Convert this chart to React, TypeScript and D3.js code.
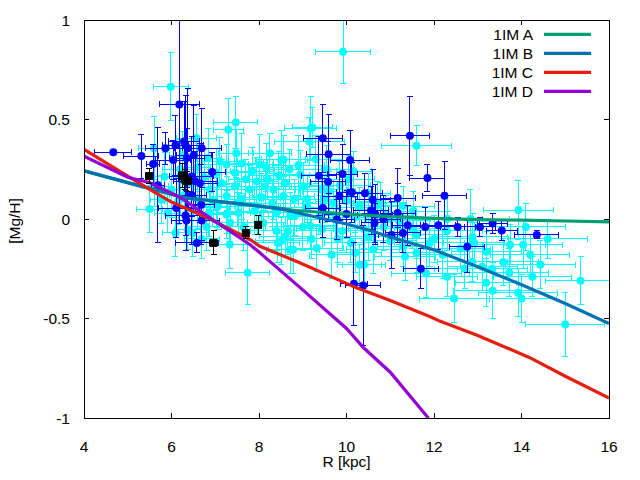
import React from 'react';
import * as d3 from 'd3';

// ---------- axes ----------
const xTicks = [4, 6, 8, 10, 12, 14, 16];
const yTicks = [-1, -0.5, 0, 0.5, 1];
const yTickLabels = ['-1', '-0.5', '0', '0.5', '1'];
const xTitle = 'R [kpc]';
const yTitle = '[Mg/H]';

// ---------- models ----------
const modelNames = ['1IM A', '1IM B', '1IM C', '1IM D'];
const modelColors = ['#009e73', '#0072b2', '#e51e10', '#9400d3'];

const modelA_R = [4, 5, 6, 6.3, 7, 8, 8.5, 8.78, 10, 11, 12, 13, 14, 15, 16];
const modelA_MgH = [0.242, 0.183, 0.125, 0.106, 0.09, 0.065, 0.053, 0.044, 0.025, 0.012, 0.003, -0.003, -0.006, -0.01, -0.014];

const modelB_R = [4, 5, 6, 6.3, 7, 8, 8.5, 9, 9.4, 10, 10.5, 11, 12, 13, 14, 15, 16];
const modelB_MgH = [0.242, 0.183, 0.125, 0.106, 0.09, 0.065, 0.05, 0.025, 0.005, -0.025, -0.055, -0.09, -0.155, -0.24, -0.33, -0.425, -0.525];

const modelC_R = [4, 5, 5.51, 6, 6.88, 7.79, 8.02, 8.93, 10.23, 11, 11.9, 12.13, 13, 14.19, 15, 16];
const modelC_MgH = [0.35, 0.215, 0.148, 0.085, 0.0, -0.103, -0.137, -0.22, -0.346, -0.41, -0.49, -0.513, -0.585, -0.697, -0.79, -0.9];

const modelD_R = [4, 5, 5.51, 6, 6.27, 6.88, 7.79, 8.02, 8.94, 10, 10.39, 11, 11.87];
const modelD_MgH = [0.315, 0.21, 0.182, 0.13, 0.098, 0.006, -0.128, -0.17, -0.345, -0.55, -0.647, -0.77, -1.0];

// ---------- observations: [R, [Mg/H], errR, err[Mg/H]] ----------
const cyanStars: number[][] = [
  [5.6, 0.356, 0.35, 0.16], [5.98, 0.665, 0.4, 0.17], [5.84, 0.214, 0.3, 0.12], [5.62, 0.165, 0.3, 0.1],
  [5.76, 0.097, 0.25, 0.12], [6.0, 0.147, 0.35, 0.14], [5.91, 0.03, 0.3, 0.1], [6.09, -0.07, 0.3, 0.12],
  [6.2, 0.25, 0.4, 0.15], [6.3, 0.12, 0.35, 0.1], [6.15, 0.09, 0.3, 0.12], [6.37, -0.053, 0.3, 0.1],
  [6.49, -0.07, 0.35, 0.12], [6.25, 0.32, 0.3, 0.12], [5.5, 0.05, 0.3, 0.12], [6.45, 0.18, 0.3, 0.15],
  [6.57, 0.407, 0.45, 0.12], [6.84, 0.306, 0.3, 0.15], [6.69, -0.1, 0.4, 0.1], [6.86, 0.03, 0.35, 0.12],
  [6.88, 0.148, 0.4, 0.1], [6.6, 0.26, 0.3, 0.12], [6.75, 0.21, 0.35, 0.14], [6.95, 0.09, 0.3, 0.1],
  [6.6, 0.1, 0.3, 0.15], [6.8, -0.04, 0.35, 0.12],
  [7.03, 0.232, 0.5, 0.12], [7.06, 0.065, 0.4, 0.12], [7.03, 0.056, 0.3, 0.1], [7.1, 0.29, 0.4, 0.12],
  [7.26, 0.274, 0.5, 0.1], [7.26, 0.115, 0.4, 0.1], [7.26, 0.023, 0.35, 0.12], [7.27, 0.028, 0.3, 0.1],
  [7.3, 0.448, 0.35, 0.16], [7.33, -0.128, 0.4, 0.12], [7.34, -0.019, 0.4, 0.1], [7.45, 0.232, 0.5, 0.12],
  [7.45, 0.165, 0.4, 0.1], [7.47, 0.485, 0.5, 0.13], [7.48, 0.33, 0.4, 0.12], [7.5, 0.082, 0.45, 0.12],
  [7.53, 0.031, 0.5, 0.1], [7.6, 0.279, 0.5, 0.15], [7.74, -0.27, 0.5, 0.16], [7.79, 0.148, 0.5, 0.12],
  [7.7, 0.2, 0.4, 0.1], [7.65, -0.04, 0.5, 0.12], [7.9, 0.04, 0.6, 0.12], [7.95, 0.065, 0.5, 0.1],
  [7.85, 0.24, 0.5, 0.12], [7.6, 0.1, 0.4, 0.1], [7.15, 0.18, 0.4, 0.12], [7.95, 0.19, 0.5, 0.12],
  [8.02, 0.274, 0.5, 0.15], [8.14, 0.165, 0.6, 0.12], [8.17, 0.257, 0.4, 0.12], [8.33, 0.148, 0.6, 0.15],
  [8.4, 0.031, 0.6, 0.12], [8.4, -0.06, 0.6, 0.1], [8.43, -0.12, 0.5, 0.1], [8.51, -0.11, 0.6, 0.12],
  [8.51, 0.297, 0.6, 0.15], [8.56, 0.299, 0.5, 0.12], [8.56, 0.115, 0.7, 0.1], [8.6, -0.087, 0.6, 0.1],
  [8.66, -0.06, 0.7, 0.12], [8.71, 0.015, 0.7, 0.12], [8.71, -0.153, 0.5, 0.12], [8.78, -0.155, 0.6, 0.12],
  [8.82, 0.015, 0.6, 0.1], [8.94, 0.223, 0.6, 0.12], [8.2, 0.2, 0.5, 0.1], [8.3, 0.08, 0.6, 0.12],
  [8.6, 0.18, 0.6, 0.12], [8.8, 0.1, 0.7, 0.1], [8.1, -0.02, 0.5, 0.1], [8.9, 0.27, 0.6, 0.15],
  [8.25, 0.33, 0.5, 0.1], [8.45, 0.22, 0.7, 0.12], [8.05, 0.11, 0.5, 0.12], [8.7, 0.25, 0.6, 0.1],
  [9.01, 0.165, 0.7, 0.12], [9.0, -0.04, 0.7, 0.12], [9.1, 0.06, 0.6, 0.1], [9.15, 0.389, 0.8, 0.12],
  [9.17, -0.035, 0.6, 0.12], [9.18, 0.455, 0.6, 0.16], [9.22, 0.46, 0.45, 0.1], [9.32, -0.146, 0.6, 0.12],
  [9.43, 0.148, 0.6, 0.12], [9.4, 0.02, 0.7, 0.1], [9.45, -0.05, 0.6, 0.1], [9.55, 0.25, 0.6, 0.12],
  [9.66, -0.18, 0.5, 0.12], [9.7, 0.08, 0.7, 0.12], [9.75, 0.0, 0.7, 0.12], [9.8, -0.1, 0.7, 0.12],
  [9.92, 0.84, 0.63, 0.16], [9.9, -0.06, 0.7, 0.1], [9.6, 0.14, 0.6, 0.1], [9.3, 0.3, 0.6, 0.12],
  [9.85, 0.17, 0.7, 0.12], [9.2, -0.1, 0.6, 0.1], [9.1, 0.1, 0.6, 0.12], [9.5, 0.1, 0.6, 0.12],
  [10.0, 0.09, 0.7, 0.12], [10.05, 0.2, 0.6, 0.12], [10.1, -0.12, 0.6, 0.1], [10.16, 0.24, 0.4, 0.1],
  [10.2, 0.01, 0.6, 0.1], [10.3, 0.06, 0.5, 0.1], [10.3, -0.23, 0.5, 0.1], [10.4, -0.23, 0.5, 0.12],
  [10.4, -0.05, 0.7, 0.1], [10.5, 0.13, 0.5, 0.1], [10.5, -0.09, 0.7, 0.12], [10.61, -0.153, 0.6, 0.12],
  [10.7, 0.07, 0.6, 0.12], [10.77, 0.082, 0.6, 0.1], [10.85, -0.04, 0.6, 0.12], [10.9, 0.02, 0.6, 0.1],
  [10.2, -0.17, 0.6, 0.1],
  [11.0, -0.11, 0.6, 0.1], [11.0, 0.0, 0.7, 0.1], [11.2, -0.01, 0.7, 0.12], [11.3, 0.065, 0.7, 0.1],
  [11.3, -0.14, 0.6, 0.1], [11.34, -0.19, 0.7, 0.12], [11.5, -0.05, 0.8, 0.1], [11.53, 0.04, 0.7, 0.1],
  [11.6, 0.368, 0.8, 0.1], [11.6, -0.08, 0.7, 0.12], [11.6, -0.17, 0.6, 0.1], [11.82, -0.274, 0.8, 0.12],
  [11.9, -0.12, 0.8, 0.12],
  [12.0, -0.1, 0.8, 0.12], [12.2, -0.18, 0.6, 0.12], [12.3, -0.06, 0.8, 0.1], [12.3, -0.29, 0.7, 0.1],
  [12.3, 0.0, 0.8, 0.12], [12.46, -0.4, 0.8, 0.12], [12.6, -0.15, 0.7, 0.1], [12.7, -0.25, 0.7, 0.1],
  [12.83, 0.0, 0.9, 0.15], [12.87, -0.215, 0.8, 0.1], [12.88, -0.09, 0.8, 0.12], [12.92, -0.12, 0.7, 0.1],
  [13.1, -0.24, 0.8, 0.12], [13.19, -0.32, 0.7, 0.12], [13.2, -0.165, 0.8, 0.1], [13.33, -0.25, 0.8, 0.12],
  [13.34, -0.36, 0.9, 0.14], [13.58, -0.216, 0.8, 0.12], [13.72, -0.27, 0.9, 0.12], [13.74, -0.13, 0.8, 0.1],
  [13.92, -0.37, 0.9, 0.12], [13.93, 0.045, 0.8, 0.15],
  [14.0, -0.4, 0.8, 0.12], [14.04, -0.13, 0.9, 0.12], [14.1, -0.04, 0.9, 0.12], [14.2, -0.18, 0.9, 0.1],
  [14.25, -0.29, 0.9, 0.1], [14.43, -0.23, 0.8, 0.12], [14.6, -0.1, 0.9, 0.1], [15.0, -0.53, 0.9, 0.16],
  [15.35, -0.31, 0.8, 0.12],
];

const blueStars: number[][] = [
  [4.67, 0.336, 0.42, 0.01], [5.31, 0.316, 0.4, 0.11], [5.58, 0.276, 0.15, 0.1], [5.69, 0.17, 0.15, 0.29],
  [5.86, 0.356, 0.45, 0.08], [6.04, 0.296, 0.4, 0.1], [6.09, 0.37, 0.3, 0.15], [6.18, 0.576, 0.45, 0.6],
  [6.29, 0.39, 0.35, 0.2], [6.32, 0.37, 0.4, 0.25], [6.37, 0.356, 0.3, 0.3], [6.35, 0.306, 0.4, 0.15],
  [6.51, 0.32, 0.4, 0.25], [6.69, 0.356, 0.45, 0.2], [6.93, 0.236, 0.3, 0.1], [6.46, 0.214, 0.5, 0.2],
  [6.54, 0.19, 0.5, 0.15], [6.65, 0.18, 0.4, 0.2], [6.46, 0.12, 0.35, 0.25], [6.68, 0.072, 0.3, 0.2],
  [6.11, 0.055, 0.4, 0.15], [6.32, 0.017, 0.45, 0.1], [6.34, -0.008, 0.35, 0.15], [6.69, -0.008, 0.4, 0.1],
  [6.58, -0.12, 0.5, 0.05],
  [9.46, 0.406, 0.45, 0.17], [9.59, 0.326, 0.5, 0.2], [10.08, 0.296, 0.45, 0.15], [9.37, 0.217, 0.4, 0.2],
  [9.91, 0.226, 0.35, 0.15], [9.58, 0.187, 0.4, 0.2], [10.12, 0.134, 0.35, 0.15], [9.84, 0.114, 0.4, 0.12],
  [10.42, 0.13, 0.4, 0.1], [10.6, 0.097, 0.4, 0.15], [11.17, 0.105, 0.4, 0.15], [11.45, 0.418, 0.45, 0.2],
  [11.85, 0.206, 0.4, 0.07], [12.24, 0.117, 0.5, 0.17], [9.46, 0.055, 0.4, 0.15], [10.0, 0.025, 0.5, 0.12],
  [10.56, 0.043, 0.4, 0.12], [10.66, 0.022, 0.4, 0.15], [10.64, -0.02, 0.3, 0.1], [10.84, 0.0, 0.4, 0.12],
  [11.17, 0.03, 0.4, 0.15], [11.03, -0.08, 0.3, 0.17], [11.29, -0.07, 0.4, 0.1], [11.4, -0.032, 0.35, 0.1],
  [11.8, -0.04, 0.35, 0.1], [12.1, -0.032, 0.4, 0.12], [12.54, -0.04, 0.4, 0.05], [13.05, -0.04, 0.35, 0.05],
  [13.34, -0.023, 0.35, 0.05], [13.55, -0.058, 0.35, 0.05], [14.35, -0.08, 0.5, 0.02], [12.76, -0.14, 0.4, 0.13],
  [11.7, -0.25, 0.4, 0.1], [10.17, -0.326, 0.3, 0.21], [10.38, -0.334, 0.4, 0.3], [9.78, -0.003, 0.4, 0.1],
];

const blackStars: number[][] = [
  [5.49, 0.216, 0.08, 0.04], [6.25, 0.22, 0.1, 0.06], [6.3, 0.2, 0.15, 0.05], [6.36, 0.19, 0.1, 0.05],
  [6.96, -0.12, 0.1, 0.06], [7.7, -0.07, 0.05, 0.03], [7.98, -0.03, 0.05, 0.05],
];

const FONT = "'Liberation Sans', Arial, sans-serif";
const FS = 15.5;

export default function App() {
  const left = 84, right = 609, top = 20, bottom = 418;
  const x = d3.scaleLinear().domain([4, 16]).range([left, right]);
  const y = d3.scaleLinear().domain([-1, 1]).range([bottom, top]);
  const line = d3.line<number[]>().x(d => x(d[0])).y(d => y(d[1]));
  const cap = 3;
  const tick = 5;
  const r = 4;

  const models = [
    d3.zip(modelA_R, modelA_MgH),
    d3.zip(modelB_R, modelB_MgH),
    d3.zip(modelC_R, modelC_MgH),
    d3.zip(modelD_R, modelD_MgH),
  ];

  const bars = (data: number[][], color: string, key: string) => (
    <g stroke={color} strokeWidth={1} shapeRendering="crispEdges" key={key}>
      {data.map((d, i) => {
        const cx = x(d[0]), cy = y(d[1]);
        const x0 = x(d[0] - d[2]), x1 = x(d[0] + d[2]);
        const y0 = y(d[1] - d[3]), y1 = y(d[1] + d[3]);
        return (
          <g key={i}>
            <line x1={x0} x2={x1} y1={cy} y2={cy} />
            <line x1={x0} x2={x0} y1={cy - cap} y2={cy + cap} />
            <line x1={x1} x2={x1} y1={cy - cap} y2={cy + cap} />
            <line x1={cx} x2={cx} y1={y0} y2={y1} />
            <line x1={cx - cap} x2={cx + cap} y1={y0} y2={y0} />
            <line x1={cx - cap} x2={cx + cap} y1={y1} y2={y1} />
          </g>
        );
      })}
    </g>
  );

  const circles = (data: number[][], color: string, key: string) => (
    <g fill={color} key={key}>
      {data.map((d, i) => <circle key={i} cx={x(d[0])} cy={y(d[1])} r={r} />)}
    </g>
  );

  return (
    <svg width={640} height={480} style={{ position: 'absolute', left: 0, top: 0, background: '#fff' }}
      fontFamily={FONT} fontSize={FS}>
      <defs>
        <clipPath id="plotClip">
          <rect x={left} y={top} width={right - left} height={bottom - top} />
        </clipPath>
      </defs>
      <rect x={0} y={0} width={640} height={480} fill="#fff" />

      <g clipPath="url(#plotClip)">
        {bars(cyanStars, '#00ffff', 'cb')}
        {circles(cyanStars, '#00ffff', 'cc')}
        {bars(blueStars, '#0000ff', 'bb')}
        {circles(blueStars, '#0000ff', 'bc')}
        {models.map((m, i) => (
          <path key={i} d={line(m) || ''} fill="none" stroke={modelColors[i]} strokeWidth={3.2} />
        ))}
        {bars(blackStars, '#000000', 'kb')}
        <g fill="#000">
          {blackStars.map((d, i) => (
            <rect key={i} x={x(d[0]) - 4} y={y(d[1]) - 4} width={8} height={8} />
          ))}
        </g>
      </g>

      {/* ticks */}
      <g stroke="#000" strokeWidth={1} shapeRendering="crispEdges">
        {xTicks.map(t => (
          <g key={'x' + t}>
            <line x1={x(t)} x2={x(t)} y1={bottom} y2={bottom - tick} />
            <line x1={x(t)} x2={x(t)} y1={top} y2={top + tick} />
          </g>
        ))}
        {yTicks.map(t => (
          <g key={'y' + t}>
            <line x1={left} x2={left + tick} y1={y(t)} y2={y(t)} />
            <line x1={right} x2={right - tick} y1={y(t)} y2={y(t)} />
          </g>
        ))}
        <rect x={left} y={top} width={right - left} height={bottom - top} fill="none" />
      </g>

      {/* tick labels */}
      <g fill="#000">
        {xTicks.map(t => (
          <text key={'xl' + t} x={x(t)} y={451.5} textAnchor="middle">{String(t)}</text>
        ))}
        {yTicks.map((t, i) => (
          <text key={'yl' + t} x={70} y={y(t) + 5.5} textAnchor="end">{yTickLabels[i]}</text>
        ))}
        <text x={(left + right) / 2} y={467} textAnchor="middle">{xTitle}</text>
        <text transform={`translate(20,221) rotate(-90)`} textAnchor="middle">{yTitle}</text>
      </g>

      {/* legend */}
      <g>
        {modelNames.map((n, i) => {
          const cy = 34.3 + i * 19;
          return (
            <g key={n}>
              <text x={533} y={cy + 5.5} textAnchor="end" fill="#000">{n}</text>
              <line x1={544} x2={591} y1={cy} y2={cy} stroke={modelColors[i]} strokeWidth={3.2} />
            </g>
          );
        })}
      </g>
    </svg>
  );
}
